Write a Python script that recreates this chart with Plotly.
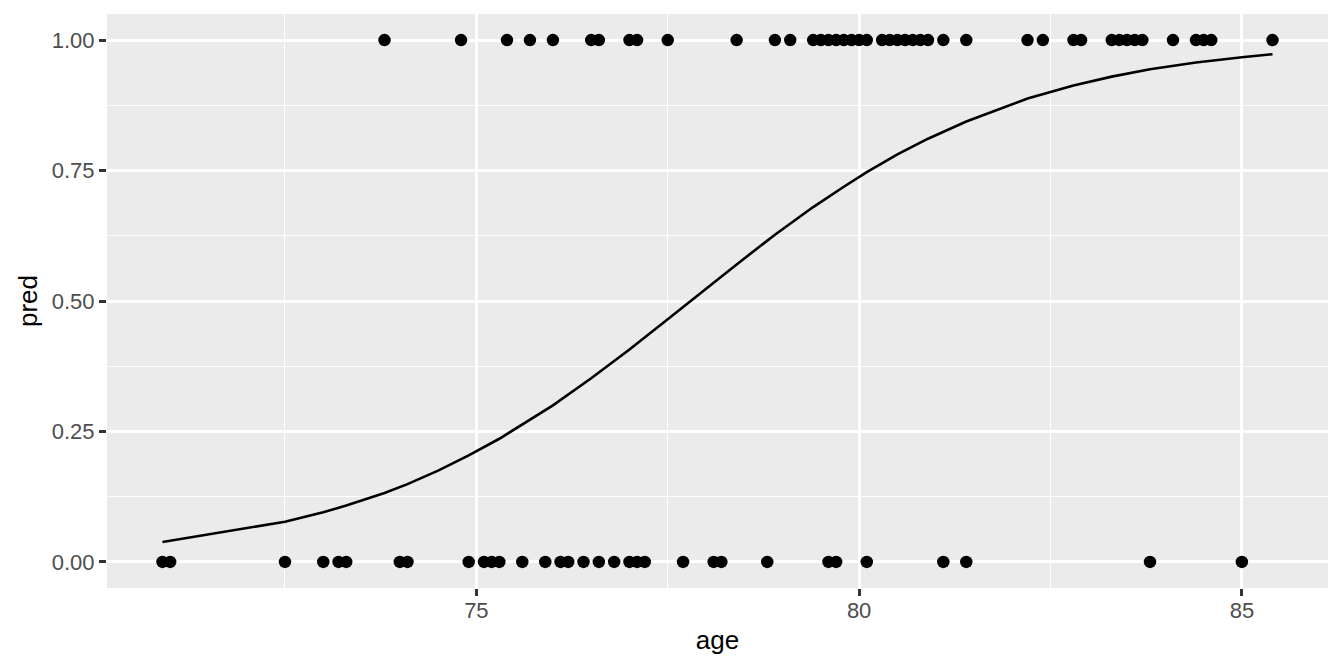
import plotly.graph_objects as go

# Observed outcomes (age, outcome)
ages_one = [73.8, 74.8, 75.4, 75.7, 76.0, 76.5, 76.6, 77.0, 77.1, 77.5, 78.4, 78.9, 79.1,
            79.4, 79.5, 79.6, 79.7, 79.8, 79.9, 80.0, 80.1, 80.3, 80.4, 80.5, 80.6, 80.7,
            80.8, 80.9, 81.1, 81.4, 82.2, 82.4, 82.8, 82.9, 83.3, 83.4, 83.5, 83.6, 83.7,
            84.1, 84.4, 84.5, 84.6, 85.4]
ages_zero = [70.9, 71.0, 72.5, 73.0, 73.2, 73.3, 74.0, 74.1, 74.9, 75.1, 75.2, 75.3, 75.6,
             75.9, 76.1, 76.2, 76.4, 76.6, 76.8, 77.0, 77.1, 77.2, 77.7, 78.1, 78.2, 78.8,
             79.6, 79.7, 80.1, 81.1, 81.4, 83.8, 85.0]

# Fitted prediction curve
curve_age = [70.9, 72.5, 73.0, 73.3, 73.8, 74.1, 74.5, 74.9, 75.3, 75.7, 76.0, 76.5, 77.0,
             77.5, 78.0, 78.4, 78.9, 79.4, 79.8, 80.1, 80.5, 80.9, 81.4, 82.2, 82.8, 83.3,
             83.8, 84.4, 85.0, 85.4]
curve_pred = [0.038, 0.077, 0.095, 0.108, 0.132, 0.149, 0.175, 0.204, 0.236, 0.272, 0.300,
              0.352, 0.407, 0.465, 0.524, 0.570, 0.627, 0.680, 0.719, 0.747, 0.781, 0.811,
              0.844, 0.888, 0.913, 0.930, 0.944, 0.957, 0.967, 0.973]

x_ticks = [75, 80, 85]
y_ticks = [0.0, 0.25, 0.5, 0.75, 1.0]
y_labels = ["0.00", "0.25", "0.50", "0.75", "1.00"]

pts_x = ages_zero + ages_one
pts_y = [0] * len(ages_zero) + [1] * len(ages_one)

fig = go.Figure()
fig.add_trace(go.Scatter(x=pts_x, y=pts_y, mode="markers",
                         marker=dict(color="black", size=12.5, line=dict(width=0)),
                         showlegend=False, hoverinfo="x+y"))
fig.add_trace(go.Scatter(x=curve_age, y=curve_pred, mode="lines",
                         line=dict(color="black", width=2.6), showlegend=False))

font_family = "Liberation Sans, Arial, sans-serif"
axis_common = dict(
    showgrid=True, gridcolor="white", gridwidth=2.6,
    zeroline=False, showline=False,
    ticks="outside", ticklen=7, tickwidth=2.6, tickcolor="#333333",
    tickfont=dict(size=22, color="#4D4D4D", family=font_family),
)
fig.update_layout(
    width=1336, height=664,
    margin=dict(l=99, r=16, t=6, b=84),
    paper_bgcolor="white", plot_bgcolor="#EBEBEB",
    font=dict(family=font_family),
    xaxis=dict(
        range=[70.175, 86.125], tickvals=x_ticks, ticktext=[str(v) for v in x_ticks],
        minor=dict(showgrid=True, gridcolor="white", gridwidth=1.3, tick0=72.5, dtick=5, ticks=""),
        title=dict(text="age", font=dict(size=26, color="black"), standoff=8),
        ticklabelstandoff=-4,
        **axis_common),
    yaxis=dict(
        range=[-0.05, 1.05], tickvals=y_ticks, ticktext=y_labels,
        minor=dict(showgrid=True, gridcolor="white", gridwidth=1.3, tick0=0.125, dtick=0.25, ticks=""),
        title=dict(text="pred", font=dict(size=26, color="black"), standoff=6),
        **axis_common),
)
fig.write_html("out.html")
